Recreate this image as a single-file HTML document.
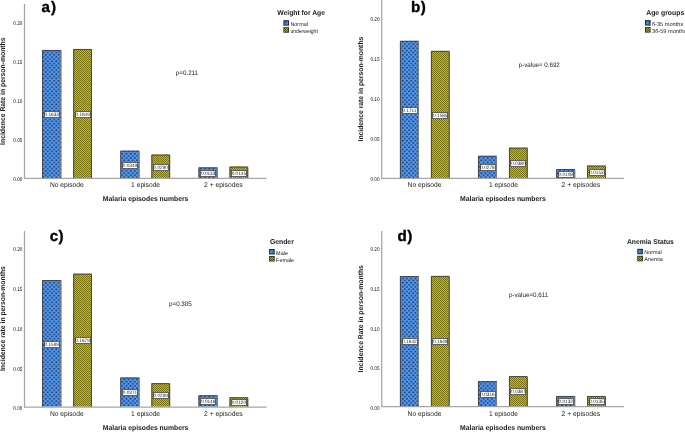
<!DOCTYPE html>
<html><head><meta charset="utf-8"><title>Malaria incidence charts</title><style>
html,body{margin:0;padding:0;background:#fff;}
body{width:685px;height:432px;overflow:hidden;}
svg{display:block;font-family:"Liberation Sans",sans-serif;text-rendering:geometricPrecision;}
.tk{font-size:5.4px;fill:#000;}
.vl{font-size:4.85px;fill:#222;}
.cat{font-size:7.0px;fill:#1a1a1a;}
.xt{font-size:7.1px;font-weight:bold;fill:#1a1a1a;}
.yt{font-size:7.0px;font-weight:bold;fill:#1a1a1a;}
.lt{font-size:15.2px;font-weight:bold;fill:#000;stroke:#000;stroke-width:0.35px;}
.pv{font-size:6.5px;fill:#1a1a1a;}
.lg{font-size:7.0px;font-weight:bold;fill:#1a1a1a;}
.li{font-size:5.6px;fill:#1a1a1a;}
</style></head>
<body><svg style="will-change:transform" width="685" height="432" viewBox="0 0 685 432">
<defs>
<pattern id="pb" width="4.25" height="4.3" patternUnits="userSpaceOnUse">
<rect width="4.25" height="4.3" fill="#5598ec"/>
<ellipse cx="1.06" cy="1.07" rx="1.02" ry="0.92" fill="#1b3a6c"/>
<ellipse cx="3.19" cy="3.22" rx="1.02" ry="0.92" fill="#1b3a6c"/>
</pattern>
<pattern id="py" width="2" height="2" patternUnits="userSpaceOnUse">
<rect width="2" height="2" fill="#cdc41e"/>
<rect width="1" height="1" fill="#6e680a"/>
<rect x="1" y="1" width="1" height="1" fill="#6e680a"/>
</pattern>
<pattern id="pyb" width="20" height="9.4" patternUnits="userSpaceOnUse" patternTransform="rotate(32.2)">
<rect y="2.7" width="20" height="3.4" fill="#9d9614" fill-opacity="0.7"/>
</pattern>
<pattern id="pbs" width="4" height="4" patternUnits="userSpaceOnUse">
<rect width="4" height="4" fill="#4d8fe0"/>
<path d="M0.5 0.8 L2.6 2 L0.5 3.2" stroke="#1b2b45" stroke-width="0.9" fill="none"/>
</pattern>
<pattern id="pys" width="2" height="2" patternUnits="userSpaceOnUse">
<rect width="2" height="2" fill="#b8ae18"/>
<rect width="1" height="1" fill="#57520a"/>
<rect x="1" y="1" width="1" height="1" fill="#57520a"/>
</pattern>
</defs>
<rect width="685" height="432" fill="#fff"/>
<g>
<line x1="24.5" y1="4" x2="24.5" y2="178.9" stroke="#a6a6a6" stroke-width="1.25"/>
<line x1="24.0" y1="178.4" x2="266.5" y2="178.4" stroke="#a6a6a6" stroke-width="1.25"/>
<text transform="translate(22.30,181.40) scale(0.86,1)" class="tk" text-anchor="end">0.00</text>
<text transform="translate(22.30,142.20) scale(0.86,1)" class="tk" text-anchor="end">0.05</text>
<text transform="translate(22.30,103.00) scale(0.86,1)" class="tk" text-anchor="end">0.10</text>
<text transform="translate(22.30,63.80) scale(0.86,1)" class="tk" text-anchor="end">0.15</text>
<text transform="translate(22.30,24.60) scale(0.86,1)" class="tk" text-anchor="end">0.20</text>
<rect x="42.10" y="50.00" width="19.3" height="127.90" fill="url(#pb)"/>
<path d="M42.55 177.90 V50.45 H60.95" fill="none" stroke="#404040" stroke-width="0.9"/>
<path d="M60.95 50.90 V177.90" fill="none" stroke="#808080" stroke-width="0.9"/>
<rect x="44.5" y="111.5" width="15" height="6" fill="#fff" stroke="#555" stroke-width="0.9"/>
<text transform="translate(51.75,116.40) scale(0.97,1)" class="vl" text-anchor="middle">0.1633</text>
<rect x="73.25" y="49.00" width="18.7" height="128.90" fill="url(#py)"/>
<rect x="73.25" y="49.00" width="18.7" height="128.90" fill="url(#pyb)"/>
<path d="M73.70 177.90 V49.45 H91.50" fill="none" stroke="#404040" stroke-width="0.9"/>
<path d="M91.50 49.90 V177.90" fill="none" stroke="#404040" stroke-width="0.9"/>
<rect x="75.5" y="111.5" width="15" height="6" fill="#fff" stroke="#555" stroke-width="0.9"/>
<text transform="translate(82.60,116.40) scale(0.97,1)" class="vl" text-anchor="middle">0.1649</text>
<rect x="120.30" y="150.70" width="19.3" height="27.20" fill="url(#pb)"/>
<path d="M120.75 177.90 V151.15 H139.15" fill="none" stroke="#404040" stroke-width="0.9"/>
<path d="M139.15 151.60 V177.90" fill="none" stroke="#808080" stroke-width="0.9"/>
<rect x="122.5" y="162.5" width="15" height="6" fill="#fff" stroke="#555" stroke-width="0.9"/>
<text transform="translate(129.95,167.40) scale(0.97,1)" class="vl" text-anchor="middle">0.0349</text>
<rect x="151.40" y="154.60" width="18.7" height="23.30" fill="url(#py)"/>
<rect x="151.40" y="154.60" width="18.7" height="23.30" fill="url(#pyb)"/>
<path d="M151.85 177.90 V155.05 H169.65" fill="none" stroke="#404040" stroke-width="0.9"/>
<path d="M169.65 155.50 V177.90" fill="none" stroke="#404040" stroke-width="0.9"/>
<rect x="153.5" y="164.5" width="15" height="6" fill="#fff" stroke="#555" stroke-width="0.9"/>
<text transform="translate(160.75,169.40) scale(0.97,1)" class="vl" text-anchor="middle">0.0290</text>
<rect x="198.50" y="167.40" width="19.3" height="10.50" fill="url(#pb)"/>
<path d="M198.95 177.90 V167.85 H217.35" fill="none" stroke="#404040" stroke-width="0.9"/>
<path d="M217.35 168.30 V177.90" fill="none" stroke="#808080" stroke-width="0.9"/>
<rect x="200.5" y="170.5" width="15" height="6" fill="#fff" stroke="#555" stroke-width="0.9"/>
<text transform="translate(208.15,175.40) scale(0.97,1)" class="vl" text-anchor="middle">0.0133</text>
<rect x="229.50" y="166.60" width="18.7" height="11.30" fill="url(#py)"/>
<rect x="229.50" y="166.60" width="18.7" height="11.30" fill="url(#pyb)"/>
<path d="M229.95 177.90 V167.05 H247.75" fill="none" stroke="#404040" stroke-width="0.9"/>
<path d="M247.75 167.50 V177.90" fill="none" stroke="#404040" stroke-width="0.9"/>
<rect x="231.5" y="170.5" width="15" height="6" fill="#fff" stroke="#555" stroke-width="0.9"/>
<text transform="translate(238.85,175.40) scale(0.97,1)" class="vl" text-anchor="middle">0.0145</text>
<text x="66.85" y="187.40" class="cat" text-anchor="middle" textLength="33.9" lengthAdjust="spacingAndGlyphs">No episode</text>
<text x="145.60" y="187.40" class="cat" text-anchor="middle" textLength="29.0" lengthAdjust="spacingAndGlyphs">1 episode</text>
<text x="223.40" y="187.40" class="cat" text-anchor="middle" textLength="38.6" lengthAdjust="spacingAndGlyphs">2 + episodes</text>
<text x="102.80" y="201.10" class="xt" textLength="85.6" lengthAdjust="spacingAndGlyphs">Malaria episodes numbers</text>
<text transform="translate(5.25,91.2) rotate(-90)" class="yt" text-anchor="middle" textLength="107.4" lengthAdjust="spacingAndGlyphs">Incidence Rate in person-months</text>
<text x="41.60" y="11.80" class="lt">a</text>
<text x="50.90" y="11.80" class="lt">)</text>
<text x="175.80" y="74.90" class="pv" textLength="22.3" lengthAdjust="spacingAndGlyphs">p=0.211</text>
<text x="277.30" y="15.15" class="lg" textLength="47.6" lengthAdjust="spacingAndGlyphs">Weight for Age</text>
<rect x="283.4" y="20.2" width="5.6" height="5.5" fill="#1b2b45"/>
<rect x="284.4" y="21.2" width="3.6" height="3.5" fill="url(#pbs)"/>
<text x="290.40" y="25.80" class="li" textLength="17.5" lengthAdjust="spacingAndGlyphs">Normal</text>
<rect x="283.4" y="27.2" width="5.6" height="5.5" fill="#2f2c05"/>
<rect x="284.2" y="28.0" width="4" height="3.9" fill="url(#pys)"/>
<text x="290.40" y="32.80" class="li" textLength="27.4" lengthAdjust="spacingAndGlyphs">underweight</text>
<line x1="381.7" y1="0" x2="381.7" y2="178.9" stroke="#a6a6a6" stroke-width="1.25"/>
<line x1="381.2" y1="178.4" x2="624" y2="178.4" stroke="#a6a6a6" stroke-width="1.25"/>
<text transform="translate(379.50,181.25) scale(0.86,1)" class="tk" text-anchor="end">0.00</text>
<text transform="translate(379.50,141.14) scale(0.86,1)" class="tk" text-anchor="end">0.05</text>
<text transform="translate(379.50,101.03) scale(0.86,1)" class="tk" text-anchor="end">0.10</text>
<text transform="translate(379.50,60.92) scale(0.86,1)" class="tk" text-anchor="end">0.15</text>
<text transform="translate(379.50,20.81) scale(0.86,1)" class="tk" text-anchor="end">0.20</text>
<rect x="399.95" y="40.85" width="19.0" height="137.05" fill="url(#pb)"/>
<path d="M400.40 177.90 V41.30 H418.50" fill="none" stroke="#404040" stroke-width="0.9"/>
<path d="M418.50 41.75 V177.90" fill="none" stroke="#808080" stroke-width="0.9"/>
<rect x="402.5" y="107.5" width="15" height="6" fill="#fff" stroke="#555" stroke-width="0.9"/>
<text transform="translate(409.45,112.40) scale(0.97,1)" class="vl" text-anchor="middle">0.1711</text>
<rect x="430.95" y="50.90" width="18.7" height="127.00" fill="url(#py)"/>
<rect x="430.95" y="50.90" width="18.7" height="127.00" fill="url(#pyb)"/>
<path d="M431.40 177.90 V51.35 H449.20" fill="none" stroke="#404040" stroke-width="0.9"/>
<path d="M449.20 51.80 V177.90" fill="none" stroke="#404040" stroke-width="0.9"/>
<rect x="432.5" y="112.5" width="15" height="6" fill="#fff" stroke="#555" stroke-width="0.9"/>
<text transform="translate(440.30,117.40) scale(0.97,1)" class="vl" text-anchor="middle">0.1585</text>
<rect x="478.00" y="155.80" width="19.0" height="22.10" fill="url(#pb)"/>
<path d="M478.45 177.90 V156.25 H496.55" fill="none" stroke="#404040" stroke-width="0.9"/>
<path d="M496.55 156.70 V177.90" fill="none" stroke="#808080" stroke-width="0.9"/>
<rect x="480.5" y="164.5" width="15" height="6" fill="#fff" stroke="#555" stroke-width="0.9"/>
<text transform="translate(487.50,169.40) scale(0.97,1)" class="vl" text-anchor="middle">0.0278</text>
<rect x="509.00" y="147.70" width="18.7" height="30.20" fill="url(#py)"/>
<rect x="509.00" y="147.70" width="18.7" height="30.20" fill="url(#pyb)"/>
<path d="M509.45 177.90 V148.15 H527.25" fill="none" stroke="#404040" stroke-width="0.9"/>
<path d="M527.25 148.60 V177.90" fill="none" stroke="#404040" stroke-width="0.9"/>
<rect x="510.5" y="160.5" width="15" height="6" fill="#fff" stroke="#555" stroke-width="0.9"/>
<text transform="translate(518.35,165.40) scale(0.97,1)" class="vl" text-anchor="middle">0.0380</text>
<rect x="556.20" y="169.10" width="19.0" height="8.80" fill="url(#pb)"/>
<path d="M556.65 177.90 V169.55 H574.75" fill="none" stroke="#404040" stroke-width="0.9"/>
<path d="M574.75 170.00 V177.90" fill="none" stroke="#808080" stroke-width="0.9"/>
<rect x="558.5" y="171.5" width="15" height="6" fill="#fff" stroke="#555" stroke-width="0.9"/>
<text transform="translate(565.70,176.40) scale(0.97,1)" class="vl" text-anchor="middle">0.0108</text>
<rect x="587.10" y="165.60" width="18.7" height="12.30" fill="url(#py)"/>
<rect x="587.10" y="165.60" width="18.7" height="12.30" fill="url(#pyb)"/>
<path d="M587.55 177.90 V166.05 H605.35" fill="none" stroke="#404040" stroke-width="0.9"/>
<path d="M605.35 166.50 V177.90" fill="none" stroke="#404040" stroke-width="0.9"/>
<rect x="589.5" y="169.5" width="15" height="6" fill="#fff" stroke="#555" stroke-width="0.9"/>
<text transform="translate(596.45,174.40) scale(0.97,1)" class="vl" text-anchor="middle">0.0153</text>
<text x="424.50" y="187.40" class="cat" text-anchor="middle" textLength="33.9" lengthAdjust="spacingAndGlyphs">No episode</text>
<text x="503.50" y="187.40" class="cat" text-anchor="middle" textLength="29.0" lengthAdjust="spacingAndGlyphs">1 episode</text>
<text x="580.90" y="187.40" class="cat" text-anchor="middle" textLength="38.6" lengthAdjust="spacingAndGlyphs">2 + episodes</text>
<text x="460.10" y="201.10" class="xt" textLength="85.6" lengthAdjust="spacingAndGlyphs">Malaria episodes numbers</text>
<text transform="translate(362.8,89.1) rotate(-90)" class="yt" text-anchor="middle" textLength="104.8" lengthAdjust="spacingAndGlyphs">Incidence rate in person-months</text>
<text x="411.00" y="11.80" class="lt">b</text>
<text x="420.80" y="11.80" class="lt">)</text>
<text x="518.80" y="66.90" class="pv" textLength="41.0" lengthAdjust="spacingAndGlyphs">p-value= 0.692</text>
<text x="646.20" y="14.95" class="lg" textLength="38.0" lengthAdjust="spacingAndGlyphs">Age groups</text>
<rect x="645.0" y="20.1" width="5.6" height="5.5" fill="#1b2b45"/>
<rect x="646.0" y="21.1" width="3.6" height="3.5" fill="url(#pbs)"/>
<text x="652.00" y="25.70" class="li" textLength="31.2" lengthAdjust="spacingAndGlyphs">6-35 months</text>
<rect x="645.0" y="27.1" width="5.6" height="5.5" fill="#2f2c05"/>
<rect x="645.8" y="27.900000000000002" width="4" height="3.9" fill="url(#pys)"/>
<text x="652.00" y="32.70" class="li" textLength="34.5" lengthAdjust="spacingAndGlyphs">36-59 months</text>
<line x1="24.5" y1="231" x2="24.5" y2="407.5" stroke="#a6a6a6" stroke-width="1.25"/>
<line x1="24.0" y1="407.0" x2="266.5" y2="407.0" stroke="#a6a6a6" stroke-width="1.25"/>
<text transform="translate(22.30,410.20) scale(0.86,1)" class="tk" text-anchor="end">0.00</text>
<text transform="translate(22.30,370.50) scale(0.86,1)" class="tk" text-anchor="end">0.05</text>
<text transform="translate(22.30,330.80) scale(0.86,1)" class="tk" text-anchor="end">0.10</text>
<text transform="translate(22.30,291.10) scale(0.86,1)" class="tk" text-anchor="end">0.15</text>
<text transform="translate(22.30,251.40) scale(0.86,1)" class="tk" text-anchor="end">0.20</text>
<rect x="42.10" y="280.10" width="19.3" height="126.40" fill="url(#pb)"/>
<path d="M42.55 406.50 V280.55 H60.95" fill="none" stroke="#404040" stroke-width="0.9"/>
<path d="M60.95 281.00 V406.50" fill="none" stroke="#808080" stroke-width="0.9"/>
<rect x="44.5" y="341.5" width="15" height="6" fill="#fff" stroke="#555" stroke-width="0.9"/>
<text transform="translate(51.75,346.40) scale(0.97,1)" class="vl" text-anchor="middle">0.1599</text>
<rect x="73.25" y="273.70" width="18.7" height="132.80" fill="url(#py)"/>
<rect x="73.25" y="273.70" width="18.7" height="132.80" fill="url(#pyb)"/>
<path d="M73.70 406.50 V274.15 H91.50" fill="none" stroke="#404040" stroke-width="0.9"/>
<path d="M91.50 274.60 V406.50" fill="none" stroke="#404040" stroke-width="0.9"/>
<rect x="75.5" y="337.5" width="15" height="6" fill="#fff" stroke="#555" stroke-width="0.9"/>
<text transform="translate(82.60,342.40) scale(0.97,1)" class="vl" text-anchor="middle">0.1679</text>
<rect x="120.30" y="377.50" width="19.3" height="29.00" fill="url(#pb)"/>
<path d="M120.75 406.50 V377.95 H139.15" fill="none" stroke="#404040" stroke-width="0.9"/>
<path d="M139.15 378.40 V406.50" fill="none" stroke="#808080" stroke-width="0.9"/>
<rect x="122.5" y="389.5" width="15" height="6" fill="#fff" stroke="#555" stroke-width="0.9"/>
<text transform="translate(129.95,394.40) scale(0.97,1)" class="vl" text-anchor="middle">0.0371</text>
<rect x="151.40" y="383.20" width="18.7" height="23.30" fill="url(#py)"/>
<rect x="151.40" y="383.20" width="18.7" height="23.30" fill="url(#pyb)"/>
<path d="M151.85 406.50 V383.65 H169.65" fill="none" stroke="#404040" stroke-width="0.9"/>
<path d="M169.65 384.10 V406.50" fill="none" stroke="#404040" stroke-width="0.9"/>
<rect x="153.5" y="392.5" width="15" height="6" fill="#fff" stroke="#555" stroke-width="0.9"/>
<text transform="translate(160.75,397.40) scale(0.97,1)" class="vl" text-anchor="middle">0.0299</text>
<rect x="198.50" y="395.30" width="19.3" height="11.20" fill="url(#pb)"/>
<path d="M198.95 406.50 V395.75 H217.35" fill="none" stroke="#404040" stroke-width="0.9"/>
<path d="M217.35 396.20 V406.50" fill="none" stroke="#808080" stroke-width="0.9"/>
<rect x="200.5" y="398.5" width="15" height="6" fill="#fff" stroke="#555" stroke-width="0.9"/>
<text transform="translate(208.15,403.40) scale(0.97,1)" class="vl" text-anchor="middle">0.0146</text>
<rect x="229.50" y="397.30" width="18.7" height="9.20" fill="url(#py)"/>
<rect x="229.50" y="397.30" width="18.7" height="9.20" fill="url(#pyb)"/>
<path d="M229.95 406.50 V397.75 H247.75" fill="none" stroke="#404040" stroke-width="0.9"/>
<path d="M247.75 398.20 V406.50" fill="none" stroke="#404040" stroke-width="0.9"/>
<rect x="231.5" y="399.5" width="15" height="6" fill="#fff" stroke="#555" stroke-width="0.9"/>
<text transform="translate(238.85,404.40) scale(0.97,1)" class="vl" text-anchor="middle">0.0120</text>
<text x="66.85" y="416.00" class="cat" text-anchor="middle" textLength="33.9" lengthAdjust="spacingAndGlyphs">No episode</text>
<text x="145.60" y="416.00" class="cat" text-anchor="middle" textLength="29.0" lengthAdjust="spacingAndGlyphs">1 episode</text>
<text x="223.40" y="416.00" class="cat" text-anchor="middle" textLength="38.6" lengthAdjust="spacingAndGlyphs">2 + episodes</text>
<text x="102.80" y="429.90" class="xt" textLength="85.6" lengthAdjust="spacingAndGlyphs">Malaria episodes numbers</text>
<text transform="translate(5.25,318.6) rotate(-90)" class="yt" text-anchor="middle" textLength="104.9" lengthAdjust="spacingAndGlyphs">Incidence rate in person-months</text>
<text x="49.80" y="240.70" class="lt">c</text>
<text x="58.50" y="240.70" class="lt">)</text>
<text x="169.00" y="305.80" class="pv" textLength="22.8" lengthAdjust="spacingAndGlyphs">p=0.385</text>
<text x="269.90" y="243.55" class="lg" textLength="23.9" lengthAdjust="spacingAndGlyphs">Gender</text>
<rect x="269.1" y="249.0" width="5.6" height="5.5" fill="#1b2b45"/>
<rect x="270.1" y="250.0" width="3.6" height="3.5" fill="url(#pbs)"/>
<text x="276.10" y="254.60" class="li" textLength="11.9" lengthAdjust="spacingAndGlyphs">Male</text>
<rect x="269.1" y="256.0" width="5.6" height="5.5" fill="#2f2c05"/>
<rect x="269.90000000000003" y="256.8" width="4" height="3.9" fill="url(#pys)"/>
<text x="276.10" y="261.60" class="li" textLength="18.0" lengthAdjust="spacingAndGlyphs">Female</text>
<line x1="381.7" y1="231" x2="381.7" y2="407.1" stroke="#a6a6a6" stroke-width="1.25"/>
<line x1="381.2" y1="406.6" x2="624" y2="406.6" stroke="#a6a6a6" stroke-width="1.25"/>
<text transform="translate(379.50,409.60) scale(0.86,1)" class="tk" text-anchor="end">0.00</text>
<text transform="translate(379.50,370.05) scale(0.86,1)" class="tk" text-anchor="end">0.05</text>
<text transform="translate(379.50,330.50) scale(0.86,1)" class="tk" text-anchor="end">0.10</text>
<text transform="translate(379.50,290.95) scale(0.86,1)" class="tk" text-anchor="end">0.15</text>
<text transform="translate(379.50,251.40) scale(0.86,1)" class="tk" text-anchor="end">0.20</text>
<rect x="399.95" y="276.10" width="19.0" height="130.00" fill="url(#pb)"/>
<path d="M400.40 406.10 V276.55 H418.50" fill="none" stroke="#404040" stroke-width="0.9"/>
<path d="M418.50 277.00 V406.10" fill="none" stroke="#808080" stroke-width="0.9"/>
<rect x="402.5" y="338.5" width="15" height="6" fill="#fff" stroke="#555" stroke-width="0.9"/>
<text transform="translate(409.45,343.40) scale(0.97,1)" class="vl" text-anchor="middle">0.1642</text>
<rect x="430.95" y="275.95" width="18.7" height="130.15" fill="url(#py)"/>
<rect x="430.95" y="275.95" width="18.7" height="130.15" fill="url(#pyb)"/>
<path d="M431.40 406.10 V276.40 H449.20" fill="none" stroke="#404040" stroke-width="0.9"/>
<path d="M449.20 276.85 V406.10" fill="none" stroke="#404040" stroke-width="0.9"/>
<rect x="432.5" y="338.5" width="15" height="6" fill="#fff" stroke="#555" stroke-width="0.9"/>
<text transform="translate(440.30,343.40) scale(0.97,1)" class="vl" text-anchor="middle">0.1649</text>
<rect x="478.00" y="381.20" width="19.0" height="24.90" fill="url(#pb)"/>
<path d="M478.45 406.10 V381.65 H496.55" fill="none" stroke="#404040" stroke-width="0.9"/>
<path d="M496.55 382.10 V406.10" fill="none" stroke="#808080" stroke-width="0.9"/>
<rect x="480.5" y="391.5" width="15" height="6" fill="#fff" stroke="#555" stroke-width="0.9"/>
<text transform="translate(487.50,396.40) scale(0.97,1)" class="vl" text-anchor="middle">0.0316</text>
<rect x="509.00" y="376.10" width="18.7" height="30.00" fill="url(#py)"/>
<rect x="509.00" y="376.10" width="18.7" height="30.00" fill="url(#pyb)"/>
<path d="M509.45 406.10 V376.55 H527.25" fill="none" stroke="#404040" stroke-width="0.9"/>
<path d="M527.25 377.00 V406.10" fill="none" stroke="#404040" stroke-width="0.9"/>
<rect x="510.5" y="388.5" width="15" height="6" fill="#fff" stroke="#555" stroke-width="0.9"/>
<text transform="translate(518.35,393.40) scale(0.97,1)" class="vl" text-anchor="middle">0.0387</text>
<rect x="556.20" y="396.00" width="19.0" height="10.10" fill="url(#pb)"/>
<path d="M556.65 406.10 V396.45 H574.75" fill="none" stroke="#404040" stroke-width="0.9"/>
<path d="M574.75 396.90 V406.10" fill="none" stroke="#808080" stroke-width="0.9"/>
<rect x="558.5" y="398.5" width="15" height="6" fill="#fff" stroke="#555" stroke-width="0.9"/>
<text transform="translate(565.70,403.40) scale(0.97,1)" class="vl" text-anchor="middle">0.0132</text>
<rect x="587.10" y="396.00" width="18.7" height="10.10" fill="url(#py)"/>
<rect x="587.10" y="396.00" width="18.7" height="10.10" fill="url(#pyb)"/>
<path d="M587.55 406.10 V396.45 H605.35" fill="none" stroke="#404040" stroke-width="0.9"/>
<path d="M605.35 396.90 V406.10" fill="none" stroke="#404040" stroke-width="0.9"/>
<rect x="589.5" y="398.5" width="15" height="6" fill="#fff" stroke="#555" stroke-width="0.9"/>
<text transform="translate(596.45,403.40) scale(0.97,1)" class="vl" text-anchor="middle">0.0135</text>
<text x="424.50" y="415.60" class="cat" text-anchor="middle" textLength="33.9" lengthAdjust="spacingAndGlyphs">No episode</text>
<text x="503.50" y="415.60" class="cat" text-anchor="middle" textLength="29.0" lengthAdjust="spacingAndGlyphs">1 episode</text>
<text x="580.90" y="415.60" class="cat" text-anchor="middle" textLength="38.6" lengthAdjust="spacingAndGlyphs">2 + episodes</text>
<text x="460.10" y="429.90" class="xt" textLength="85.6" lengthAdjust="spacingAndGlyphs">Malaria episodes numbers</text>
<text transform="translate(362.8,318.8) rotate(-90)" class="yt" text-anchor="middle" textLength="107.3" lengthAdjust="spacingAndGlyphs">Incidence Rate in person-months</text>
<text x="397.50" y="240.80" class="lt">d</text>
<text x="407.20" y="240.80" class="lt">)</text>
<text x="508.90" y="297.10" class="pv" textLength="39.4" lengthAdjust="spacingAndGlyphs">p-value=0.611</text>
<text x="627.00" y="243.55" class="lg" textLength="46.8" lengthAdjust="spacingAndGlyphs">Anemia Status</text>
<rect x="637.3" y="248.8" width="5.6" height="5.5" fill="#1b2b45"/>
<rect x="638.3" y="249.8" width="3.6" height="3.5" fill="url(#pbs)"/>
<text x="644.30" y="254.40" class="li" textLength="17.5" lengthAdjust="spacingAndGlyphs">Normal</text>
<rect x="637.3" y="255.8" width="5.6" height="5.5" fill="#2f2c05"/>
<rect x="638.0999999999999" y="256.6" width="4" height="3.9" fill="url(#pys)"/>
<text x="644.30" y="261.40" class="li" textLength="18.5" lengthAdjust="spacingAndGlyphs">Anemia</text>
</g>
</svg></body></html>
